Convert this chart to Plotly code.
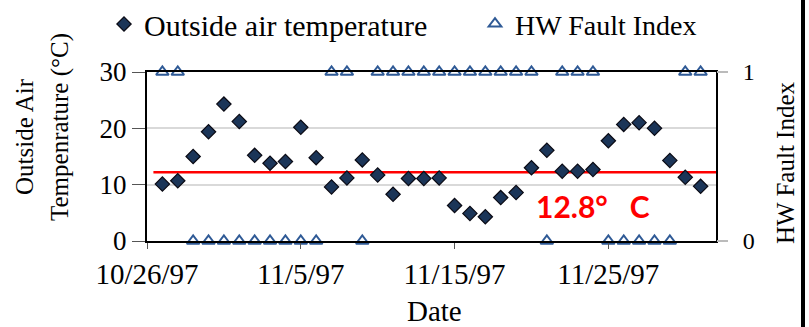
import plotly.graph_objects as go

dates = ["1997-10-27", "1997-10-28", "1997-10-29", "1997-10-30", "1997-10-31",
         "1997-11-01", "1997-11-02", "1997-11-03", "1997-11-04", "1997-11-05",
         "1997-11-06", "1997-11-07", "1997-11-08", "1997-11-09", "1997-11-10",
         "1997-11-11", "1997-11-12", "1997-11-13", "1997-11-14", "1997-11-15",
         "1997-11-16", "1997-11-17", "1997-11-18", "1997-11-19", "1997-11-20",
         "1997-11-21", "1997-11-22", "1997-11-23", "1997-11-24", "1997-11-25",
         "1997-11-26", "1997-11-27", "1997-11-28", "1997-11-29", "1997-11-30",
         "1997-12-01"]

outside_temp = [10.1, 10.7, 15.0, 19.4, 24.3, 21.2, 15.2, 13.8, 14.1, 20.2,
                14.8, 9.6, 11.2, 14.4, 11.7, 8.3, 11.1, 11.1, 11.2, 6.3,
                4.9, 4.3, 7.7, 8.6, 13.0, 16.1, 12.4, 12.4, 12.7, 17.8,
                20.7, 21.0, 20.0, 14.3, 11.3, 9.7]

hw_fault_index = [1, 1, 0, 0, 0, 0, 0, 0, 0, 0,
                  0, 1, 1, 0, 1, 1, 1, 1, 1, 1,
                  1, 1, 1, 1, 1, 0, 1, 1, 1, 0,
                  0, 0, 0, 0, 1, 1]

threshold_line_x = ["1997-10-26 10:00", "1997-12-02"]
threshold_line_y = [12.2, 12.2]
threshold_label = "12.8°\u00a0\u00a0\u00a0C"

x_tickvals = ["1997-10-26", "1997-11-05", "1997-11-15", "1997-11-25"]
x_ticktext = ["10/26/97", "11/5/97", "11/15/97", "11/25/97"]

SERIF = "Liberation Serif"

# figure / plot-area geometry in pixels
L, R, T, B = 147, 93, 72, 86
W, H = 809, 327
pw, ph = W - L - R, H - T - B


def px_x(x):
    return (x - L) / pw


def px_y(y):
    return (H - B - y) / ph


fig = go.Figure()

fig.add_trace(go.Scatter(
    x=threshold_line_x, y=threshold_line_y, mode="lines",
    line=dict(color="#FF0000", width=2.5), showlegend=False, hoverinfo="skip"))

fig.add_trace(go.Scatter(
    x=dates, y=outside_temp, mode="markers", name="Outside air temperature",
    legend="legend",
    marker=dict(symbol="diamond", size=11, color="#1B3558",
                line=dict(color="#0A0A14", width=1.2))))

fig.add_trace(go.Scatter(
    x=dates, y=hw_fault_index, mode="markers", name="HW Fault Index",
    legend="legend2", yaxis="y2", cliponaxis=False,
    marker=dict(symbol="triangle-up-open", size=11, color="#2F5A96",
                line=dict(color="#2F5A96", width=2))))

fig.add_annotation(
    x="1997-11-24 00:00", y=6.3, xref="x", yref="y", text=threshold_label,
    showarrow=False, xanchor="center", yanchor="middle",
    font=dict(family="Lato", size=30, color="#FF0000", weight="bold"))

# left axis title (two lines)
fig.add_annotation(
    x=px_x(24), y=px_y(137), xref="paper", yref="paper", text="Outside Air",
    showarrow=False, textangle=-90, xanchor="center", yanchor="middle",
    font=dict(family=SERIF, size=25, color="black"))
fig.add_annotation(
    x=px_x(60), y=px_y(127), xref="paper", yref="paper", text="Tempenrature (°C)",
    showarrow=False, textangle=-90, xanchor="center", yanchor="middle",
    font=dict(family=SERIF, size=25, color="black"))

# right axis title
fig.add_annotation(
    x=px_x(785), y=px_y(163), xref="paper", yref="paper", textangle=-90,
    text="HW Fault Index", showarrow=False, xanchor="center", yanchor="middle",
    font=dict(family=SERIF, size=25, color="black"))

# x axis title
fig.add_annotation(
    x=px_x(434), y=px_y(311), xref="paper", yref="paper",
    text="Date", showarrow=False, xanchor="center", yanchor="middle",
    font=dict(family=SERIF, size=29, color="black"))

# border at right edge of image
fig.add_shape(type="rect", xref="paper", yref="paper", layer="above",
              x0=px_x(801), x1=px_x(805), y0=px_y(H), y1=px_y(0),
              fillcolor="black", line=dict(width=0))

fig.update_layout(
    width=W, height=H,
    margin=dict(l=L, r=R, t=T, b=B, autoexpand=False),
    paper_bgcolor="white", plot_bgcolor="white",
    font=dict(family=SERIF, size=29, color="black"),
    showlegend=True,
    legend=dict(orientation="h", xref="container", yref="container",
                x=104 / W, xanchor="left", y=1 - 24 / H, yanchor="middle",
                font=dict(family=SERIF, size=30), itemwidth=30,
                bgcolor="rgba(0,0,0,0)"),
    legend2=dict(orientation="h", xref="container", yref="container",
                 x=475 / W, xanchor="left", y=1 - 24 / H, yanchor="middle",
                 font=dict(family=SERIF, size=28), itemwidth=30,
                 bgcolor="rgba(0,0,0,0)"),
    xaxis=dict(type="date", range=["1997-10-26", "1997-12-02"],
               tickvals=x_tickvals, ticktext=x_ticktext,
               showgrid=False, showline=True, linecolor="black", linewidth=2,
               mirror=True, ticks="outside", ticklen=6, tickcolor="#555555",
               tickfont=dict(family=SERIF, size=29), ticklabelstandoff=0,
               zeroline=False),
    yaxis=dict(range=[0, 30], tickvals=[0, 10, 20, 30],
               showgrid=True, gridcolor="#D9D9D9", gridwidth=1.5,
               showline=True, linecolor="black", linewidth=2, mirror=True,
               ticks="outside", ticklen=13, tickcolor="#555555",
               tickfont=dict(family=SERIF, size=27), ticksuffix="\u2002",
               zeroline=False),
    yaxis2=dict(range=[0, 1], tickvals=[0, 1], overlaying="y", side="right",
                showgrid=False, showline=False, ticks="outside", ticklen=11,
                tickcolor="#BBBBBB", tickwidth=1.5,
                tickfont=dict(family=SERIF, size=24), ticklabelstandoff=10,
                zeroline=False),
)

fig.write_html("out.html", config={"displayModeBar": False},
               post_script="document.body.style.margin='0px';")
